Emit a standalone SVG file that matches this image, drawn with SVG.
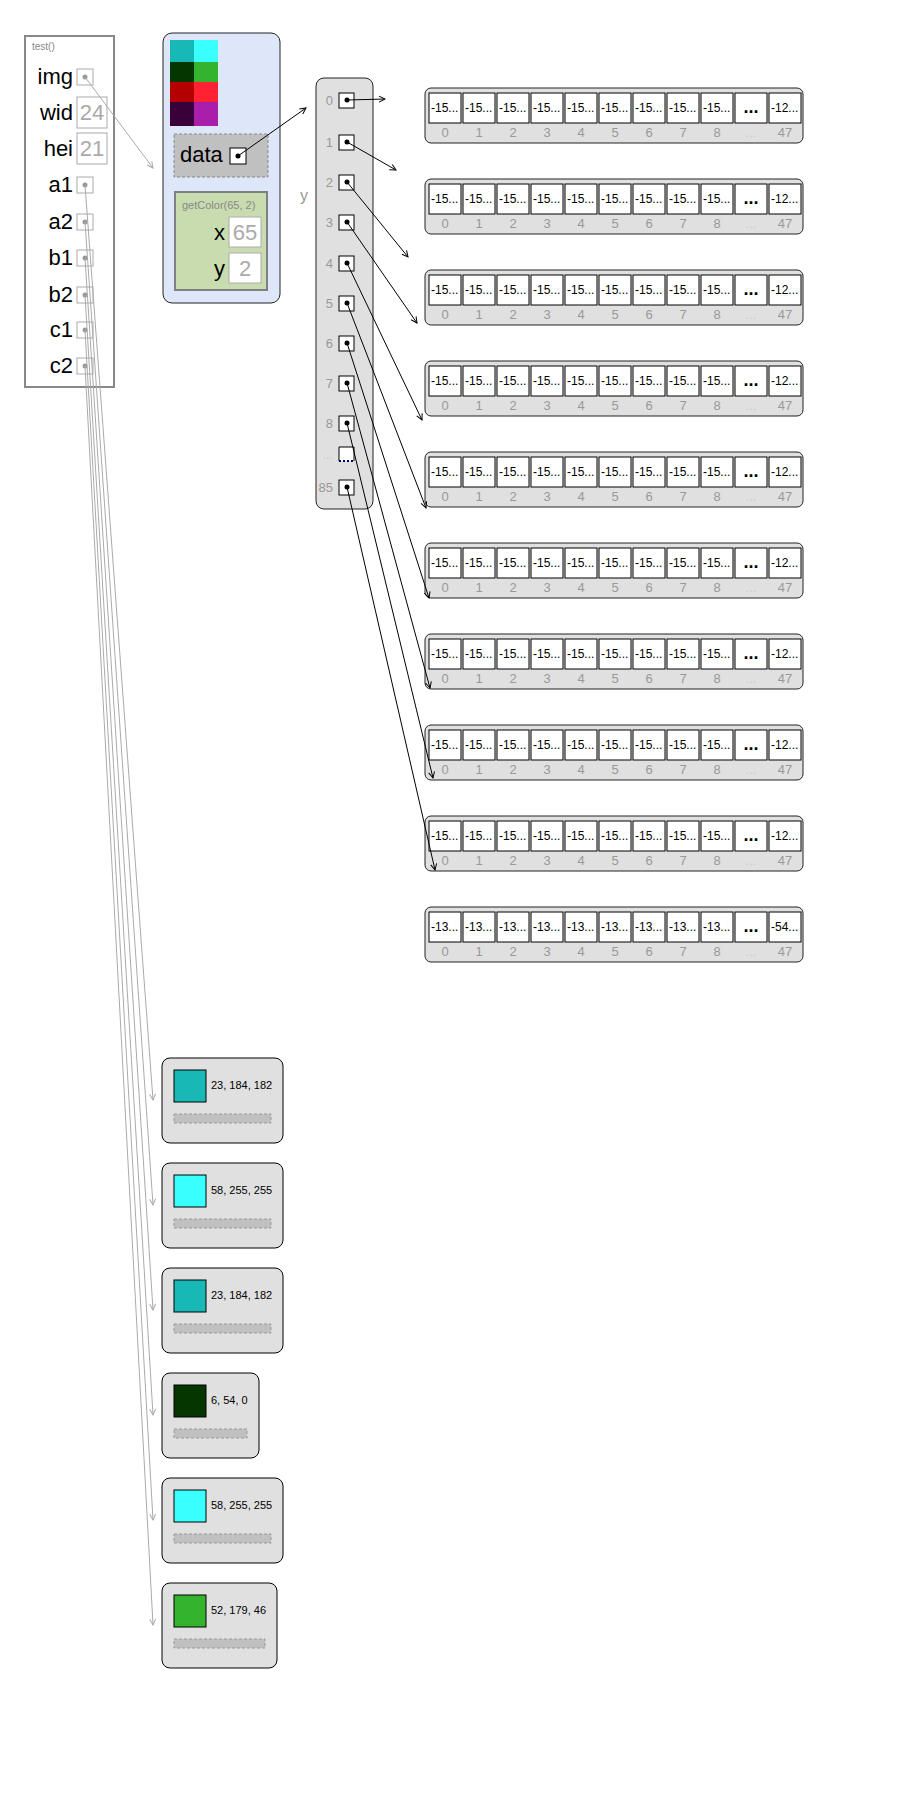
<svg xmlns="http://www.w3.org/2000/svg" width="898" height="1806" viewBox="0 0 898 1806">
<defs>
<style>
text{font-family:"Liberation Sans",Arial,sans-serif}
.lbl{font-size:22px;fill:#000;text-anchor:end}
.val{font-size:22px;fill:#aaa;text-anchor:middle}
.vbox{fill:#fff;stroke:#aaa;stroke-width:1}
.pbox{fill:#fff;stroke:#aaa;stroke-width:1}
.gdot{fill:#999}
.bdot{fill:#000}
.bpbox{fill:#fff;stroke:#000;stroke-width:1}
.arr{fill:#e0e0e0;stroke:#222;stroke-width:1}
.cell{fill:#fff;stroke:#000;stroke-width:1}
.ct{font-size:12px;fill:#000}
.idx{font-size:13px;fill:#999;text-anchor:middle}
.ridx{font-size:13px;fill:#999;text-anchor:end}
.cframe{fill:#e0e0e0;stroke:#000;stroke-width:1}
.sw{stroke:#000;stroke-width:1}
.cval{font-size:11px;fill:#000}
.bar{fill:#c0c0c0;stroke:#999;stroke-width:1;stroke-dasharray:3,2}
.ln{fill:none;stroke:#000;stroke-width:1}
.gln{fill:none;stroke:#aaa;stroke-width:1}
</style>
<marker id="ah" markerWidth="8" markerHeight="8" refX="7" refY="4" orient="auto" markerUnits="userSpaceOnUse">
<path d="M1,1 L7,4 L1,7" fill="none" stroke="#000" stroke-width="1"/>
</marker>
<marker id="ahg" markerWidth="8" markerHeight="8" refX="7" refY="4" orient="auto" markerUnits="userSpaceOnUse">
<path d="M1,1 L7,4 L1,7" fill="none" stroke="#aaa" stroke-width="1"/>
</marker>
</defs>
<rect width="898" height="1806" fill="#fff"/>

<g id="frame-test">
<rect x="25" y="36" width="89" height="351" fill="#fff" stroke="#888" stroke-width="2"/>
<text x="32" y="50" font-size="10" fill="#888">test()</text>
<text class="lbl" x="73" y="84">img</text>
<rect class="pbox" x="77" y="69" width="16" height="16"/><circle class="gdot" cx="85" cy="77" r="2.5"/>
<text class="lbl" x="73" y="120">wid</text>
<rect class="vbox" x="77" y="97" width="30" height="31"/><text class="val" x="92" y="120">24</text>
<text class="lbl" x="73" y="156">hei</text>
<rect class="vbox" x="77" y="133" width="30" height="31"/><text class="val" x="92" y="156">21</text>
<text class="lbl" x="73" y="192">a1</text>
<rect class="pbox" x="77" y="177" width="16" height="16"/><circle class="gdot" cx="85" cy="185" r="2.5"/>
<text class="lbl" x="73" y="229">a2</text>
<rect class="pbox" x="77" y="214" width="16" height="16"/><circle class="gdot" cx="85" cy="222" r="2.5"/>
<text class="lbl" x="73" y="265">b1</text>
<rect class="pbox" x="77" y="250" width="16" height="16"/><circle class="gdot" cx="85" cy="258" r="2.5"/>
<text class="lbl" x="73" y="302">b2</text>
<rect class="pbox" x="77" y="287" width="16" height="16"/><circle class="gdot" cx="85" cy="295" r="2.5"/>
<text class="lbl" x="73" y="337">c1</text>
<rect class="pbox" x="77" y="322" width="16" height="16"/><circle class="gdot" cx="85" cy="330" r="2.5"/>
<text class="lbl" x="73" y="373">c2</text>
<rect class="pbox" x="77" y="358" width="16" height="16"/><circle class="gdot" cx="85" cy="366" r="2.5"/>
</g>

<g id="img-object">
<rect x="163" y="33" width="117" height="270" rx="9" fill="#dde7f9" stroke="#222" stroke-width="1"/>
<rect x="170" y="40" width="24" height="22" fill="#17b8b6"/>
<rect x="194" y="40" width="24" height="22" fill="#3affff"/>
<rect x="170" y="62" width="24" height="20" fill="#063600"/>
<rect x="194" y="62" width="24" height="20" fill="#34b32e"/>
<rect x="170" y="82" width="24" height="20" fill="#b50000"/>
<rect x="194" y="82" width="24" height="20" fill="#ff2233"/>
<rect x="170" y="102" width="24" height="24" fill="#39003a"/>
<rect x="194" y="102" width="24" height="24" fill="#a91eab"/>
<rect x="174" y="134" width="94" height="43" fill="#c0c0c0" stroke="#888" stroke-width="1" stroke-dasharray="3,2"/>
<text x="180" y="162" font-size="22" fill="#000">data</text>
<rect class="bpbox" x="230" y="148" width="16" height="16"/><circle class="bdot" cx="238" cy="156" r="2.5"/>
</g>

<g id="frame-getColor">
<rect x="175" y="192" width="92" height="98" fill="#c8dcb0" stroke="#808080" stroke-width="2"/>
<text x="182" y="209" font-size="11" fill="#888">getColor(65, 2)</text>
<text class="lbl" x="225" y="240">x</text>
<rect class="vbox" x="229" y="217" width="32" height="30"/><text class="val" x="245" y="240">65</text>
<text class="lbl" x="225" y="276">y</text>
<rect class="vbox" x="229" y="253" width="32" height="30"/><text class="val" x="245" y="276">2</text>
</g>

<g id="data-array">
<text x="304" y="201" font-size="16" fill="#999" text-anchor="middle">y</text>
<rect x="316" y="78" width="57" height="431" rx="8" fill="#e0e0e0" stroke="#222" stroke-width="1"/>
<text class="ridx" x="333" y="105">0</text><rect class="bpbox" x="339" y="93" width="15" height="15"/><circle class="bdot" cx="347" cy="100" r="2.5"/>
<text class="ridx" x="333" y="147">1</text><rect class="bpbox" x="339" y="135" width="15" height="15"/><circle class="bdot" cx="347" cy="142" r="2.5"/>
<text class="ridx" x="333" y="187">2</text><rect class="bpbox" x="339" y="175" width="15" height="15"/><circle class="bdot" cx="347" cy="182" r="2.5"/>
<text class="ridx" x="333" y="227">3</text><rect class="bpbox" x="339" y="215" width="15" height="15"/><circle class="bdot" cx="347" cy="222" r="2.5"/>
<text class="ridx" x="333" y="268">4</text><rect class="bpbox" x="339" y="256" width="15" height="15"/><circle class="bdot" cx="347" cy="263" r="2.5"/>
<text class="ridx" x="333" y="308">5</text><rect class="bpbox" x="339" y="296" width="15" height="15"/><circle class="bdot" cx="347" cy="303" r="2.5"/>
<text class="ridx" x="333" y="348">6</text><rect class="bpbox" x="339" y="336" width="15" height="15"/><circle class="bdot" cx="347" cy="343" r="2.5"/>
<text class="ridx" x="333" y="388">7</text><rect class="bpbox" x="339" y="376" width="15" height="15"/><circle class="bdot" cx="347" cy="383" r="2.5"/>
<text class="ridx" x="333" y="428">8</text><rect class="bpbox" x="339" y="416" width="15" height="15"/><circle class="bdot" cx="347" cy="423" r="2.5"/>
<text class="ridx" x="333" y="459" fill="#bbb" style="fill:#ccc">...</text>
<path d="M339,461 V447 H354 V461" fill="#fff" stroke="#000" stroke-width="1"/>
<line x1="339" y1="461" x2="354" y2="461" stroke="#006" stroke-width="2" stroke-dasharray="2,2"/>
<text class="ridx" x="333" y="492">85</text><rect class="bpbox" x="339" y="480" width="15" height="15"/><circle class="bdot" cx="347" cy="487" r="2.5"/>
</g>

<g id="row-0" transform="translate(0,88)">
<rect class="arr" x="425" y="0" width="378" height="55" rx="6"/>
<rect class="cell" x="429" y="5" width="32" height="30"/><text class="ct" x="431" y="24">-15...</text><text class="idx" x="445" y="49">0</text>
<rect class="cell" x="463" y="5" width="32" height="30"/><text class="ct" x="465" y="24">-15...</text><text class="idx" x="479" y="49">1</text>
<rect class="cell" x="497" y="5" width="32" height="30"/><text class="ct" x="499" y="24">-15...</text><text class="idx" x="513" y="49">2</text>
<rect class="cell" x="531" y="5" width="32" height="30"/><text class="ct" x="533" y="24">-15...</text><text class="idx" x="547" y="49">3</text>
<rect class="cell" x="565" y="5" width="32" height="30"/><text class="ct" x="567" y="24">-15...</text><text class="idx" x="581" y="49">4</text>
<rect class="cell" x="599" y="5" width="32" height="30"/><text class="ct" x="601" y="24">-15...</text><text class="idx" x="615" y="49">5</text>
<rect class="cell" x="633" y="5" width="32" height="30"/><text class="ct" x="635" y="24">-15...</text><text class="idx" x="649" y="49">6</text>
<rect class="cell" x="667" y="5" width="32" height="30"/><text class="ct" x="669" y="24">-15...</text><text class="idx" x="683" y="49">7</text>
<rect class="cell" x="701" y="5" width="32" height="30"/><text class="ct" x="703" y="24">-15...</text><text class="idx" x="717" y="49">8</text>
<rect class="cell" x="735" y="5" width="32" height="30"/><text x="751" y="25" font-size="18" font-weight="bold" text-anchor="middle">...</text><text class="idx" x="751" y="49" style="fill:#ccc">...</text>
<rect class="cell" x="769" y="5" width="32" height="30"/><text class="ct" x="771" y="24">-12...</text><text class="idx" x="785" y="49">47</text>
</g>
<g id="row-1" transform="translate(0,179)">
<rect class="arr" x="425" y="0" width="378" height="55" rx="6"/>
<rect class="cell" x="429" y="5" width="32" height="30"/><text class="ct" x="431" y="24">-15...</text><text class="idx" x="445" y="49">0</text>
<rect class="cell" x="463" y="5" width="32" height="30"/><text class="ct" x="465" y="24">-15...</text><text class="idx" x="479" y="49">1</text>
<rect class="cell" x="497" y="5" width="32" height="30"/><text class="ct" x="499" y="24">-15...</text><text class="idx" x="513" y="49">2</text>
<rect class="cell" x="531" y="5" width="32" height="30"/><text class="ct" x="533" y="24">-15...</text><text class="idx" x="547" y="49">3</text>
<rect class="cell" x="565" y="5" width="32" height="30"/><text class="ct" x="567" y="24">-15...</text><text class="idx" x="581" y="49">4</text>
<rect class="cell" x="599" y="5" width="32" height="30"/><text class="ct" x="601" y="24">-15...</text><text class="idx" x="615" y="49">5</text>
<rect class="cell" x="633" y="5" width="32" height="30"/><text class="ct" x="635" y="24">-15...</text><text class="idx" x="649" y="49">6</text>
<rect class="cell" x="667" y="5" width="32" height="30"/><text class="ct" x="669" y="24">-15...</text><text class="idx" x="683" y="49">7</text>
<rect class="cell" x="701" y="5" width="32" height="30"/><text class="ct" x="703" y="24">-15...</text><text class="idx" x="717" y="49">8</text>
<rect class="cell" x="735" y="5" width="32" height="30"/><text x="751" y="25" font-size="18" font-weight="bold" text-anchor="middle">...</text><text class="idx" x="751" y="49" style="fill:#ccc">...</text>
<rect class="cell" x="769" y="5" width="32" height="30"/><text class="ct" x="771" y="24">-12...</text><text class="idx" x="785" y="49">47</text>
</g>
<g id="row-2" transform="translate(0,270)">
<rect class="arr" x="425" y="0" width="378" height="55" rx="6"/>
<rect class="cell" x="429" y="5" width="32" height="30"/><text class="ct" x="431" y="24">-15...</text><text class="idx" x="445" y="49">0</text>
<rect class="cell" x="463" y="5" width="32" height="30"/><text class="ct" x="465" y="24">-15...</text><text class="idx" x="479" y="49">1</text>
<rect class="cell" x="497" y="5" width="32" height="30"/><text class="ct" x="499" y="24">-15...</text><text class="idx" x="513" y="49">2</text>
<rect class="cell" x="531" y="5" width="32" height="30"/><text class="ct" x="533" y="24">-15...</text><text class="idx" x="547" y="49">3</text>
<rect class="cell" x="565" y="5" width="32" height="30"/><text class="ct" x="567" y="24">-15...</text><text class="idx" x="581" y="49">4</text>
<rect class="cell" x="599" y="5" width="32" height="30"/><text class="ct" x="601" y="24">-15...</text><text class="idx" x="615" y="49">5</text>
<rect class="cell" x="633" y="5" width="32" height="30"/><text class="ct" x="635" y="24">-15...</text><text class="idx" x="649" y="49">6</text>
<rect class="cell" x="667" y="5" width="32" height="30"/><text class="ct" x="669" y="24">-15...</text><text class="idx" x="683" y="49">7</text>
<rect class="cell" x="701" y="5" width="32" height="30"/><text class="ct" x="703" y="24">-15...</text><text class="idx" x="717" y="49">8</text>
<rect class="cell" x="735" y="5" width="32" height="30"/><text x="751" y="25" font-size="18" font-weight="bold" text-anchor="middle">...</text><text class="idx" x="751" y="49" style="fill:#ccc">...</text>
<rect class="cell" x="769" y="5" width="32" height="30"/><text class="ct" x="771" y="24">-12...</text><text class="idx" x="785" y="49">47</text>
</g>
<g id="row-3" transform="translate(0,361)">
<rect class="arr" x="425" y="0" width="378" height="55" rx="6"/>
<rect class="cell" x="429" y="5" width="32" height="30"/><text class="ct" x="431" y="24">-15...</text><text class="idx" x="445" y="49">0</text>
<rect class="cell" x="463" y="5" width="32" height="30"/><text class="ct" x="465" y="24">-15...</text><text class="idx" x="479" y="49">1</text>
<rect class="cell" x="497" y="5" width="32" height="30"/><text class="ct" x="499" y="24">-15...</text><text class="idx" x="513" y="49">2</text>
<rect class="cell" x="531" y="5" width="32" height="30"/><text class="ct" x="533" y="24">-15...</text><text class="idx" x="547" y="49">3</text>
<rect class="cell" x="565" y="5" width="32" height="30"/><text class="ct" x="567" y="24">-15...</text><text class="idx" x="581" y="49">4</text>
<rect class="cell" x="599" y="5" width="32" height="30"/><text class="ct" x="601" y="24">-15...</text><text class="idx" x="615" y="49">5</text>
<rect class="cell" x="633" y="5" width="32" height="30"/><text class="ct" x="635" y="24">-15...</text><text class="idx" x="649" y="49">6</text>
<rect class="cell" x="667" y="5" width="32" height="30"/><text class="ct" x="669" y="24">-15...</text><text class="idx" x="683" y="49">7</text>
<rect class="cell" x="701" y="5" width="32" height="30"/><text class="ct" x="703" y="24">-15...</text><text class="idx" x="717" y="49">8</text>
<rect class="cell" x="735" y="5" width="32" height="30"/><text x="751" y="25" font-size="18" font-weight="bold" text-anchor="middle">...</text><text class="idx" x="751" y="49" style="fill:#ccc">...</text>
<rect class="cell" x="769" y="5" width="32" height="30"/><text class="ct" x="771" y="24">-12...</text><text class="idx" x="785" y="49">47</text>
</g>
<g id="row-4" transform="translate(0,452)">
<rect class="arr" x="425" y="0" width="378" height="55" rx="6"/>
<rect class="cell" x="429" y="5" width="32" height="30"/><text class="ct" x="431" y="24">-15...</text><text class="idx" x="445" y="49">0</text>
<rect class="cell" x="463" y="5" width="32" height="30"/><text class="ct" x="465" y="24">-15...</text><text class="idx" x="479" y="49">1</text>
<rect class="cell" x="497" y="5" width="32" height="30"/><text class="ct" x="499" y="24">-15...</text><text class="idx" x="513" y="49">2</text>
<rect class="cell" x="531" y="5" width="32" height="30"/><text class="ct" x="533" y="24">-15...</text><text class="idx" x="547" y="49">3</text>
<rect class="cell" x="565" y="5" width="32" height="30"/><text class="ct" x="567" y="24">-15...</text><text class="idx" x="581" y="49">4</text>
<rect class="cell" x="599" y="5" width="32" height="30"/><text class="ct" x="601" y="24">-15...</text><text class="idx" x="615" y="49">5</text>
<rect class="cell" x="633" y="5" width="32" height="30"/><text class="ct" x="635" y="24">-15...</text><text class="idx" x="649" y="49">6</text>
<rect class="cell" x="667" y="5" width="32" height="30"/><text class="ct" x="669" y="24">-15...</text><text class="idx" x="683" y="49">7</text>
<rect class="cell" x="701" y="5" width="32" height="30"/><text class="ct" x="703" y="24">-15...</text><text class="idx" x="717" y="49">8</text>
<rect class="cell" x="735" y="5" width="32" height="30"/><text x="751" y="25" font-size="18" font-weight="bold" text-anchor="middle">...</text><text class="idx" x="751" y="49" style="fill:#ccc">...</text>
<rect class="cell" x="769" y="5" width="32" height="30"/><text class="ct" x="771" y="24">-12...</text><text class="idx" x="785" y="49">47</text>
</g>
<g id="row-5" transform="translate(0,543)">
<rect class="arr" x="425" y="0" width="378" height="55" rx="6"/>
<rect class="cell" x="429" y="5" width="32" height="30"/><text class="ct" x="431" y="24">-15...</text><text class="idx" x="445" y="49">0</text>
<rect class="cell" x="463" y="5" width="32" height="30"/><text class="ct" x="465" y="24">-15...</text><text class="idx" x="479" y="49">1</text>
<rect class="cell" x="497" y="5" width="32" height="30"/><text class="ct" x="499" y="24">-15...</text><text class="idx" x="513" y="49">2</text>
<rect class="cell" x="531" y="5" width="32" height="30"/><text class="ct" x="533" y="24">-15...</text><text class="idx" x="547" y="49">3</text>
<rect class="cell" x="565" y="5" width="32" height="30"/><text class="ct" x="567" y="24">-15...</text><text class="idx" x="581" y="49">4</text>
<rect class="cell" x="599" y="5" width="32" height="30"/><text class="ct" x="601" y="24">-15...</text><text class="idx" x="615" y="49">5</text>
<rect class="cell" x="633" y="5" width="32" height="30"/><text class="ct" x="635" y="24">-15...</text><text class="idx" x="649" y="49">6</text>
<rect class="cell" x="667" y="5" width="32" height="30"/><text class="ct" x="669" y="24">-15...</text><text class="idx" x="683" y="49">7</text>
<rect class="cell" x="701" y="5" width="32" height="30"/><text class="ct" x="703" y="24">-15...</text><text class="idx" x="717" y="49">8</text>
<rect class="cell" x="735" y="5" width="32" height="30"/><text x="751" y="25" font-size="18" font-weight="bold" text-anchor="middle">...</text><text class="idx" x="751" y="49" style="fill:#ccc">...</text>
<rect class="cell" x="769" y="5" width="32" height="30"/><text class="ct" x="771" y="24">-12...</text><text class="idx" x="785" y="49">47</text>
</g>
<g id="row-6" transform="translate(0,634)">
<rect class="arr" x="425" y="0" width="378" height="55" rx="6"/>
<rect class="cell" x="429" y="5" width="32" height="30"/><text class="ct" x="431" y="24">-15...</text><text class="idx" x="445" y="49">0</text>
<rect class="cell" x="463" y="5" width="32" height="30"/><text class="ct" x="465" y="24">-15...</text><text class="idx" x="479" y="49">1</text>
<rect class="cell" x="497" y="5" width="32" height="30"/><text class="ct" x="499" y="24">-15...</text><text class="idx" x="513" y="49">2</text>
<rect class="cell" x="531" y="5" width="32" height="30"/><text class="ct" x="533" y="24">-15...</text><text class="idx" x="547" y="49">3</text>
<rect class="cell" x="565" y="5" width="32" height="30"/><text class="ct" x="567" y="24">-15...</text><text class="idx" x="581" y="49">4</text>
<rect class="cell" x="599" y="5" width="32" height="30"/><text class="ct" x="601" y="24">-15...</text><text class="idx" x="615" y="49">5</text>
<rect class="cell" x="633" y="5" width="32" height="30"/><text class="ct" x="635" y="24">-15...</text><text class="idx" x="649" y="49">6</text>
<rect class="cell" x="667" y="5" width="32" height="30"/><text class="ct" x="669" y="24">-15...</text><text class="idx" x="683" y="49">7</text>
<rect class="cell" x="701" y="5" width="32" height="30"/><text class="ct" x="703" y="24">-15...</text><text class="idx" x="717" y="49">8</text>
<rect class="cell" x="735" y="5" width="32" height="30"/><text x="751" y="25" font-size="18" font-weight="bold" text-anchor="middle">...</text><text class="idx" x="751" y="49" style="fill:#ccc">...</text>
<rect class="cell" x="769" y="5" width="32" height="30"/><text class="ct" x="771" y="24">-12...</text><text class="idx" x="785" y="49">47</text>
</g>
<g id="row-7" transform="translate(0,725)">
<rect class="arr" x="425" y="0" width="378" height="55" rx="6"/>
<rect class="cell" x="429" y="5" width="32" height="30"/><text class="ct" x="431" y="24">-15...</text><text class="idx" x="445" y="49">0</text>
<rect class="cell" x="463" y="5" width="32" height="30"/><text class="ct" x="465" y="24">-15...</text><text class="idx" x="479" y="49">1</text>
<rect class="cell" x="497" y="5" width="32" height="30"/><text class="ct" x="499" y="24">-15...</text><text class="idx" x="513" y="49">2</text>
<rect class="cell" x="531" y="5" width="32" height="30"/><text class="ct" x="533" y="24">-15...</text><text class="idx" x="547" y="49">3</text>
<rect class="cell" x="565" y="5" width="32" height="30"/><text class="ct" x="567" y="24">-15...</text><text class="idx" x="581" y="49">4</text>
<rect class="cell" x="599" y="5" width="32" height="30"/><text class="ct" x="601" y="24">-15...</text><text class="idx" x="615" y="49">5</text>
<rect class="cell" x="633" y="5" width="32" height="30"/><text class="ct" x="635" y="24">-15...</text><text class="idx" x="649" y="49">6</text>
<rect class="cell" x="667" y="5" width="32" height="30"/><text class="ct" x="669" y="24">-15...</text><text class="idx" x="683" y="49">7</text>
<rect class="cell" x="701" y="5" width="32" height="30"/><text class="ct" x="703" y="24">-15...</text><text class="idx" x="717" y="49">8</text>
<rect class="cell" x="735" y="5" width="32" height="30"/><text x="751" y="25" font-size="18" font-weight="bold" text-anchor="middle">...</text><text class="idx" x="751" y="49" style="fill:#ccc">...</text>
<rect class="cell" x="769" y="5" width="32" height="30"/><text class="ct" x="771" y="24">-12...</text><text class="idx" x="785" y="49">47</text>
</g>
<g id="row-8" transform="translate(0,816)">
<rect class="arr" x="425" y="0" width="378" height="55" rx="6"/>
<rect class="cell" x="429" y="5" width="32" height="30"/><text class="ct" x="431" y="24">-15...</text><text class="idx" x="445" y="49">0</text>
<rect class="cell" x="463" y="5" width="32" height="30"/><text class="ct" x="465" y="24">-15...</text><text class="idx" x="479" y="49">1</text>
<rect class="cell" x="497" y="5" width="32" height="30"/><text class="ct" x="499" y="24">-15...</text><text class="idx" x="513" y="49">2</text>
<rect class="cell" x="531" y="5" width="32" height="30"/><text class="ct" x="533" y="24">-15...</text><text class="idx" x="547" y="49">3</text>
<rect class="cell" x="565" y="5" width="32" height="30"/><text class="ct" x="567" y="24">-15...</text><text class="idx" x="581" y="49">4</text>
<rect class="cell" x="599" y="5" width="32" height="30"/><text class="ct" x="601" y="24">-15...</text><text class="idx" x="615" y="49">5</text>
<rect class="cell" x="633" y="5" width="32" height="30"/><text class="ct" x="635" y="24">-15...</text><text class="idx" x="649" y="49">6</text>
<rect class="cell" x="667" y="5" width="32" height="30"/><text class="ct" x="669" y="24">-15...</text><text class="idx" x="683" y="49">7</text>
<rect class="cell" x="701" y="5" width="32" height="30"/><text class="ct" x="703" y="24">-15...</text><text class="idx" x="717" y="49">8</text>
<rect class="cell" x="735" y="5" width="32" height="30"/><text x="751" y="25" font-size="18" font-weight="bold" text-anchor="middle">...</text><text class="idx" x="751" y="49" style="fill:#ccc">...</text>
<rect class="cell" x="769" y="5" width="32" height="30"/><text class="ct" x="771" y="24">-12...</text><text class="idx" x="785" y="49">47</text>
</g>
<g id="row-85" transform="translate(0,907)">
<rect class="arr" x="425" y="0" width="378" height="55" rx="6"/>
<rect class="cell" x="429" y="5" width="32" height="30"/><text class="ct" x="431" y="24">-13...</text><text class="idx" x="445" y="49">0</text>
<rect class="cell" x="463" y="5" width="32" height="30"/><text class="ct" x="465" y="24">-13...</text><text class="idx" x="479" y="49">1</text>
<rect class="cell" x="497" y="5" width="32" height="30"/><text class="ct" x="499" y="24">-13...</text><text class="idx" x="513" y="49">2</text>
<rect class="cell" x="531" y="5" width="32" height="30"/><text class="ct" x="533" y="24">-13...</text><text class="idx" x="547" y="49">3</text>
<rect class="cell" x="565" y="5" width="32" height="30"/><text class="ct" x="567" y="24">-13...</text><text class="idx" x="581" y="49">4</text>
<rect class="cell" x="599" y="5" width="32" height="30"/><text class="ct" x="601" y="24">-13...</text><text class="idx" x="615" y="49">5</text>
<rect class="cell" x="633" y="5" width="32" height="30"/><text class="ct" x="635" y="24">-13...</text><text class="idx" x="649" y="49">6</text>
<rect class="cell" x="667" y="5" width="32" height="30"/><text class="ct" x="669" y="24">-13...</text><text class="idx" x="683" y="49">7</text>
<rect class="cell" x="701" y="5" width="32" height="30"/><text class="ct" x="703" y="24">-13...</text><text class="idx" x="717" y="49">8</text>
<rect class="cell" x="735" y="5" width="32" height="30"/><text x="751" y="25" font-size="18" font-weight="bold" text-anchor="middle">...</text><text class="idx" x="751" y="49" style="fill:#ccc">...</text>
<rect class="cell" x="769" y="5" width="32" height="30"/><text class="ct" x="771" y="24">-54...</text><text class="idx" x="785" y="49">47</text>
</g>

<g id="color-a1">
<rect class="cframe" x="162" y="1058" width="121" height="85" rx="8"/>
<rect class="sw" x="174" y="1070" width="32" height="32" fill="#17b8b6"/>
<text class="cval" x="211" y="1089">23, 184, 182</text>
<rect class="bar" x="174" y="1114" width="97" height="9"/>
</g>
<g id="color-a2">
<rect class="cframe" x="162" y="1163" width="121" height="85" rx="8"/>
<rect class="sw" x="174" y="1175" width="32" height="32" fill="#3affff"/>
<text class="cval" x="211" y="1194">58, 255, 255</text>
<rect class="bar" x="174" y="1219" width="97" height="9"/>
</g>
<g id="color-b1">
<rect class="cframe" x="162" y="1268" width="121" height="85" rx="8"/>
<rect class="sw" x="174" y="1280" width="32" height="32" fill="#17b8b6"/>
<text class="cval" x="211" y="1299">23, 184, 182</text>
<rect class="bar" x="174" y="1324" width="97" height="9"/>
</g>
<g id="color-b2">
<rect class="cframe" x="162" y="1373" width="97" height="85" rx="8"/>
<rect class="sw" x="174" y="1385" width="32" height="32" fill="#063600"/>
<text class="cval" x="211" y="1404">6, 54, 0</text>
<rect class="bar" x="174" y="1429" width="73" height="9"/>
</g>
<g id="color-c1">
<rect class="cframe" x="162" y="1478" width="121" height="85" rx="8"/>
<rect class="sw" x="174" y="1490" width="32" height="32" fill="#3affff"/>
<text class="cval" x="211" y="1509">58, 255, 255</text>
<rect class="bar" x="174" y="1534" width="97" height="9"/>
</g>
<g id="color-c2">
<rect class="cframe" x="162" y="1583" width="115" height="85" rx="8"/>
<rect class="sw" x="174" y="1595" width="32" height="32" fill="#34b32e"/>
<text class="cval" x="211" y="1614">52, 179, 46</text>
<rect class="bar" x="174" y="1639" width="91" height="9"/>
</g>

<g id="connectors">
<path class="gln" d="M85,77 L153,168" marker-end="url(#ahg)"/>
<path class="gln" d="M85,185 L153,1100" marker-end="url(#ahg)"/>
<path class="gln" d="M85,222 L153,1205" marker-end="url(#ahg)"/>
<path class="gln" d="M85,258 L153,1310" marker-end="url(#ahg)"/>
<path class="gln" d="M85,295 L153,1415" marker-end="url(#ahg)"/>
<path class="gln" d="M85,330 L153,1520" marker-end="url(#ahg)"/>
<path class="gln" d="M85,366 L153,1625" marker-end="url(#ahg)"/>
<path class="ln" d="M238,156 L306,108" marker-end="url(#ah)"/>
<path class="ln" d="M347,100 L385,99" marker-end="url(#ah)"/>
<path class="ln" d="M347,142 L396,170" marker-end="url(#ah)"/>
<path class="ln" d="M347,182 L408,257" marker-end="url(#ah)"/>
<path class="ln" d="M347,222 L417,323" marker-end="url(#ah)"/>
<path class="ln" d="M347,263 L422,420" marker-end="url(#ah)"/>
<path class="ln" d="M347,303 L426,508" marker-end="url(#ah)"/>
<path class="ln" d="M347,343 L429,598" marker-end="url(#ah)"/>
<path class="ln" d="M347,383 L430,688" marker-end="url(#ah)"/>
<path class="ln" d="M347,423 L433,778" marker-end="url(#ah)"/>
<path class="ln" d="M347,487 L435,870" marker-end="url(#ah)"/>
</g>
</svg>
